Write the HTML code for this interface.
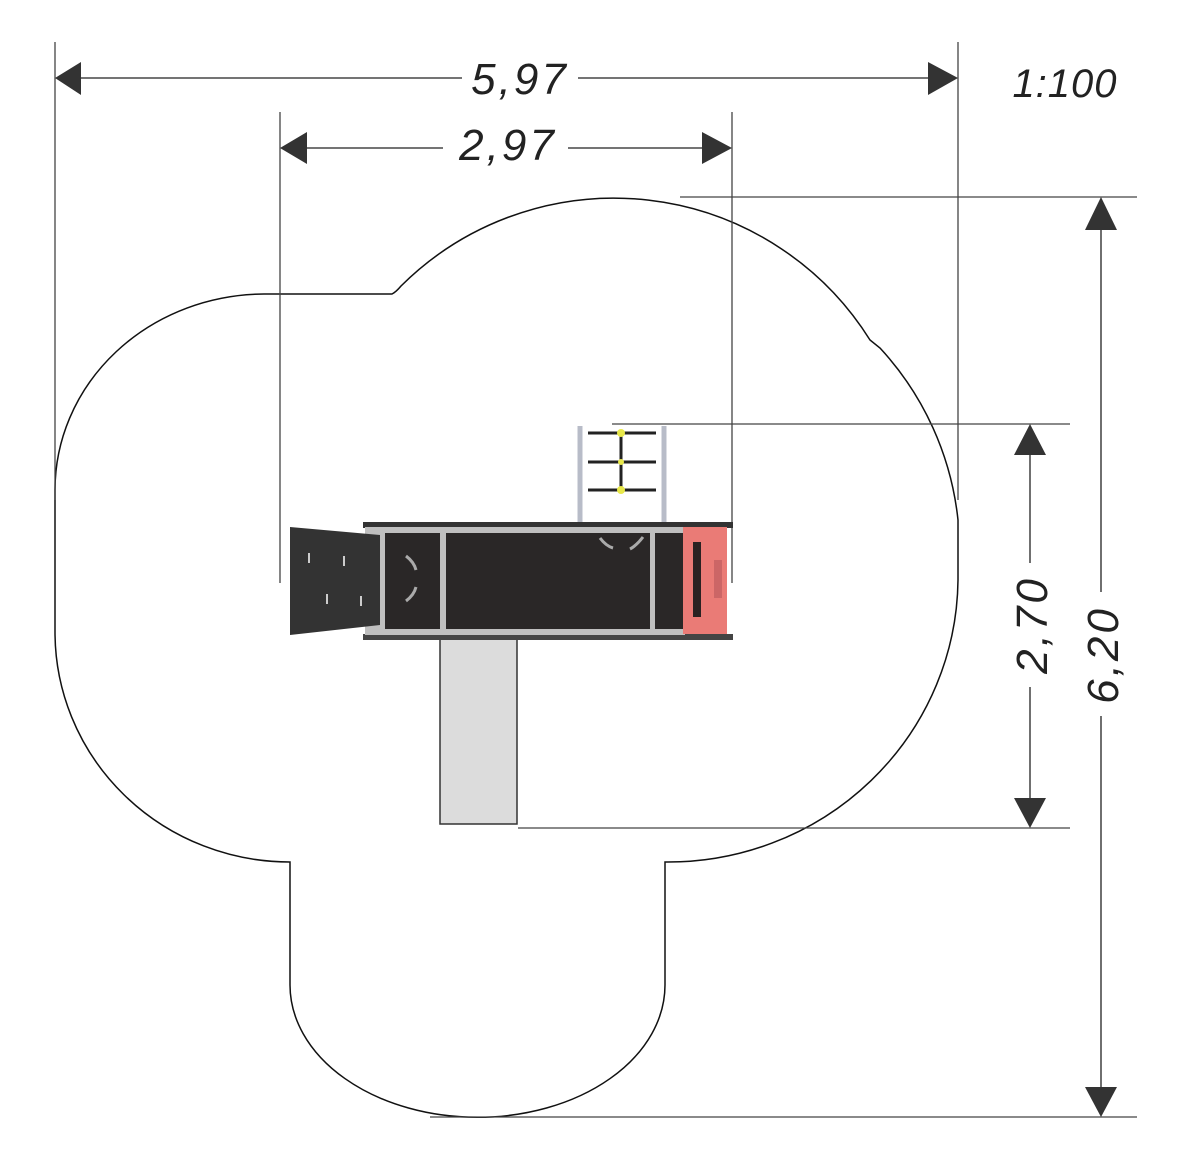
<!DOCTYPE html>
<html><head><meta charset="utf-8"><style>
html,body{margin:0;padding:0;background:#fff;}
svg{display:block;}
text{font-family:"Liberation Sans",sans-serif;font-style:italic;fill:#222;}
</style></head><body>
<svg width="1193" height="1171" viewBox="0 0 1193 1171" xmlns="http://www.w3.org/2000/svg">
<path d="M264,294 L392,294 Q396,292 401,286 A302,302 0 0 1 870,340 L880,348 A300,300 0 0 1 958,520 L958,580 A290,285 0 0 1 665,862 L665,985 A187,132 0 0 1 290,985 L290,862 A235,230 0 0 1 55,632 L55,490 A210,196 0 0 1 264,294 Z" fill="none" stroke="#111" stroke-width="1.5"/>
<g stroke="#444" stroke-width="1.3" fill="none">
<line x1="55" y1="42" x2="55" y2="500"/>
<line x1="958" y1="42" x2="958" y2="500"/>
<line x1="280" y1="112" x2="280" y2="583"/>
<line x1="732" y1="112" x2="732" y2="583"/>
<line x1="680" y1="197" x2="1137" y2="197"/>
<line x1="430" y1="1117" x2="1137" y2="1117"/>
<line x1="612" y1="424" x2="1070" y2="424"/>
<line x1="518" y1="828" x2="1070" y2="828"/>
</g>
<g stroke="#222" stroke-width="1.3">
<line x1="70" y1="78" x2="462" y2="78"/><line x1="578" y1="78" x2="945" y2="78"/>
<line x1="295" y1="148" x2="443" y2="148"/><line x1="568" y1="148" x2="718" y2="148"/>
<line x1="1101" y1="210" x2="1101" y2="592"/><line x1="1101" y1="716" x2="1101" y2="1105"/>
<line x1="1030" y1="437" x2="1030" y2="563"/><line x1="1030" y1="687" x2="1030" y2="815"/>
</g>
<g fill="#333">
<polygon points="55,78 81,62 81,95"/><polygon points="958,78 928,62 928,95"/>
<polygon points="280,148 307,132 307,164"/><polygon points="732,148 702,132 702,164"/>
<polygon points="1101,197 1085,230 1117,230"/><polygon points="1101,1117 1085,1087 1117,1087"/>
<polygon points="1030,424 1014,455 1046,455"/><polygon points="1030,828 1014,798 1046,798"/>
</g>
<text x="520" y="94" font-size="44" text-anchor="middle" letter-spacing="3">5,97</text>
<text x="508" y="160" font-size="44" text-anchor="middle" letter-spacing="3">2,97</text>
<text x="1065" y="97" font-size="40" text-anchor="middle" letter-spacing="1">1:100</text>
<text transform="translate(1118,655) rotate(-90)" font-size="44" text-anchor="middle" letter-spacing="3">6,20</text>
<text transform="translate(1047,625) rotate(-90)" font-size="44" text-anchor="middle" letter-spacing="3">2,70</text>
<g stroke="#b8bcc8" stroke-width="5"><line x1="580" y1="426" x2="580" y2="522"/><line x1="664" y1="426" x2="664" y2="522"/></g>
<g stroke="#222" stroke-width="3"><line x1="588" y1="433" x2="656" y2="433"/><line x1="588" y1="462" x2="656" y2="462"/><line x1="588" y1="490" x2="656" y2="490"/><line x1="621" y1="433" x2="621" y2="490"/></g>
<g fill="#e8e84a"><circle cx="621" cy="433" r="4"/><circle cx="621" cy="462" r="3"/><circle cx="621" cy="490" r="4"/></g>
<rect x="440" y="622" width="77" height="202" fill="#dcdcdc" stroke="#333" stroke-width="1.5"/>
<rect x="363" y="522" width="370" height="6" fill="#333"/>
<rect x="363" y="634" width="370" height="6" fill="#444"/>
<rect x="365" y="527" width="320" height="108" fill="#bfbfbf"/>
<rect x="385" y="533" width="55" height="96" fill="#2a2727"/>
<rect x="446" y="533" width="204" height="96" fill="#2a2727"/>
<rect x="655" y="533" width="30" height="96" fill="#2a2727"/>
<rect x="683" y="527" width="44" height="107" fill="#ea7b76"/>
<rect x="693" y="542" width="8" height="75" fill="#2a2222"/>
<rect x="714" y="560" width="8" height="38" fill="#c66"/>
<polygon points="290,527 380,535 380,625 290,635" fill="#333"/>
<g stroke="#ccc" stroke-width="2"><line x1="309" y1="553" x2="309" y2="563"/><line x1="344" y1="556" x2="344" y2="566"/><line x1="327" y1="594" x2="327" y2="604"/><line x1="361" y1="596" x2="361" y2="606"/></g>
<g stroke="#aaa" stroke-width="3" fill="none"><path d="M406,556 Q414,562 416,570"/><path d="M406,601 Q414,595 416,587"/><path d="M600,538 Q606,546 613,548"/><path d="M643,537 Q636,546 630,549"/></g>
</svg>
</body></html>
